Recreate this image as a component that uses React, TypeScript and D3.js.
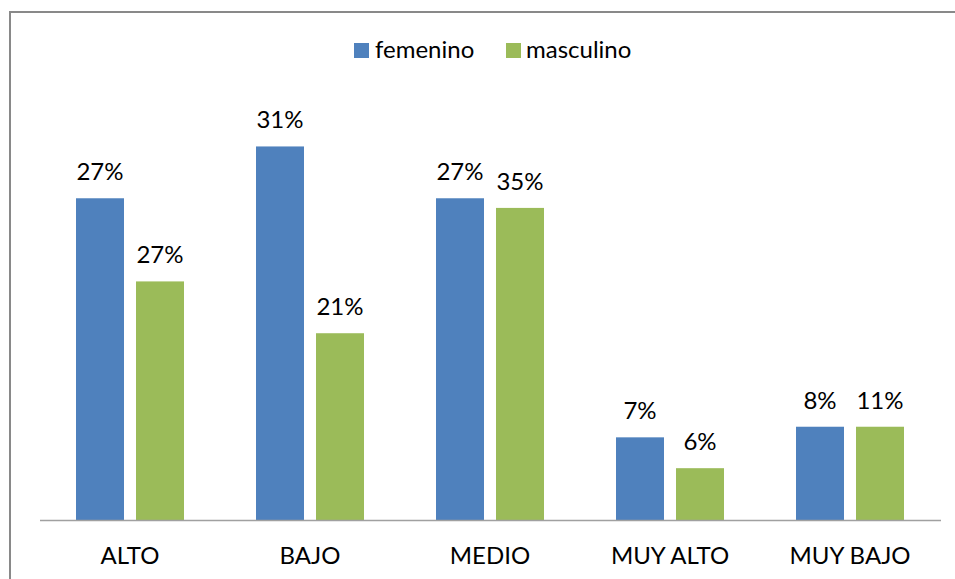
import React from 'react';
import * as d3 from 'd3';

// categories and series
const categories = ['ALTO', 'BAJO', 'MEDIO', 'MUY ALTO', 'MUY BAJO'];
const seriesNames = ['femenino', 'masculino'];

// bar heights (share of the value axis)
const femenino = [0.267, 0.31, 0.267, 0.0686, 0.0774];
const masculino = [0.198, 0.155, 0.259, 0.043, 0.0774];

// data labels printed above the bars
const femeninoLabels = ['27%', '31%', '27%', '7%', '8%'];
const masculinoLabels = ['27%', '21%', '35%', '6%', '11%'];

const colors = ['#4f81bd', '#9bbb59'];

const width = 955;
const height = 579;
const font = 'Lato, "Open Sans", sans-serif';

const App = () => {
  const x = d3.scaleBand().domain(categories).range([40, 940]).paddingInner(0.4).paddingOuter(0.2);
  const xs = d3.scaleBand().domain(seriesNames).range([0, x.bandwidth()]).paddingInner(0.2);
  const y = d3.scaleLinear().domain([0, 0.4]).range([520, 38]);

  const values = [femenino, masculino];
  const labels = [femeninoLabels, masculinoLabels];

  return (
    <svg width={width} height={height} style={{ position: 'absolute', left: 0, top: 0 }} fontFamily={font}>
      <rect x={0} y={0} width={width} height={height} fill="#fff" />
      <rect x={10} y={12} width={960} height={620} fill="none" stroke="#898989" strokeWidth={2} />

      {/* legend */}
      <g fontSize={24} fill="#000">
        <rect x={354} y={43} width={15} height={15} fill={colors[0]} />
        <text x={375} y={58}>{seriesNames[0]}</text>
        <rect x={506} y={43} width={15} height={15} fill={colors[1]} />
        <text x={526} y={58}>{seriesNames[1]}</text>
      </g>

      {/* bars */}
      {categories.map((c, i) => (
        <g key={c} transform={`translate(${x(c)},0)`}>
          {seriesNames.map((s, j) => (
            <g key={s}>
              <rect
                x={xs(s)}
                y={y(values[j][i])}
                width={xs.bandwidth()}
                height={y(0) - y(values[j][i])}
                fill={colors[j]}
              />
              <text
                x={(xs(s) as number) + xs.bandwidth() / 2}
                y={y(values[j][i]) - 18}
                textAnchor="middle"
                fontSize={24}
                fill="#000"
              >
                {labels[j][i]}
              </text>
            </g>
          ))}
        </g>
      ))}

      {/* axis */}
      <line x1={40} x2={941} y1={520.5} y2={520.5} stroke="#a0a0a0" strokeWidth={1.5} />
      {categories.map(c => (
        <text
          key={c}
          x={(x(c) as number) + x.bandwidth() / 2}
          y={564}
          textAnchor="middle"
          fontSize={24}
          fill="#000"
        >
          {c}
        </text>
      ))}
    </svg>
  );
};

export default App;
